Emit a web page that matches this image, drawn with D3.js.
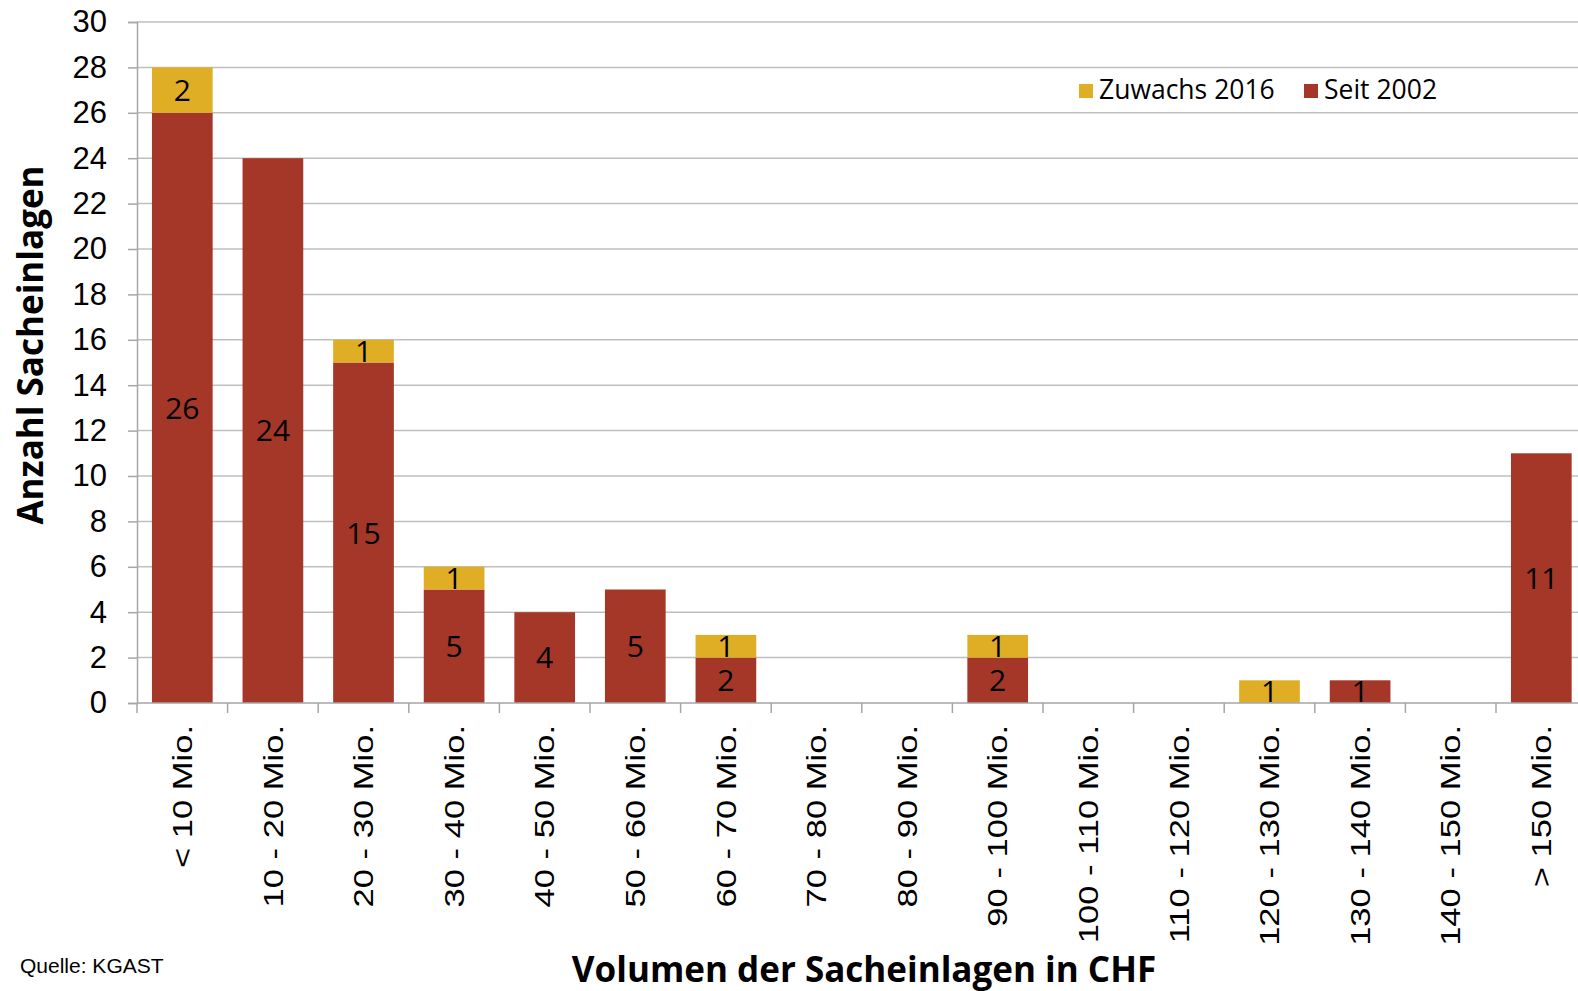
<!DOCTYPE html>
<meta charset="utf-8">
<script src="https://d3js.org/d3.v7.min.js"></script>
<style>
  body { margin: 0; background: #fff; }
</style>
<div id="chart"></div>
<script>
    // categories and values
    var categories = ["< 10 Mio.", "10 - 20 Mio.", "20 - 30 Mio.", "30 - 40 Mio.", "40 - 50 Mio.",
        "50 - 60 Mio.", "60 - 70 Mio.", "70 - 80 Mio.", "80 - 90 Mio.", "90 - 100 Mio.",
        "100 - 110 Mio.", "110 - 120 Mio.", "120 - 130 Mio.", "130 - 140 Mio.", "140 - 150 Mio.", "> 150 Mio."];
    var seit2002 = [26, 24, 15, 5, 4, 5, 2, 0, 0, 2, 0, 0, 0, 1, 0, 11];
    var zuwachs2016 = [2, 0, 1, 1, 0, 0, 1, 0, 0, 1, 0, 0, 1, 0, 0, 0];
    var yTicks = d3.range(0, 31, 2);

    var W = 1578, H = 991;
    var plotLeft = 137, plotTop = 22, plotBottom = 703;
    var step = 90.6;

    var svg = d3.select("#chart").append("svg")
        .attr("width", W).attr("height", H);

    var x = d3.scaleBand()
        .domain(categories)
        .range([plotLeft, plotLeft + step * categories.length])
        .paddingInner(0.33)
        .paddingOuter(0.165);

    var y = d3.scaleLinear()
        .domain([0, 30])
        .range([plotBottom, plotTop]);

    // gridlines
    svg.append("g")
        .selectAll("line")
        .data(yTicks.filter(function (d) { return d > 0; }))
        .enter().append("line")
        .attr("x1", plotLeft).attr("x2", W)
        .attr("y1", function (d) { return y(d); })
        .attr("y2", function (d) { return y(d); })
        .attr("stroke", "#bfbfbf")
        .attr("stroke-width", 1.5);

    // Y axis
    var yAxis = svg.append("g")
        .attr("transform", "translate(" + plotLeft + ",0)")
        .call(d3.axisLeft(y).tickValues(yTicks).tickSize(9).tickPadding(21));
    yAxis.selectAll("line").attr("stroke", "#a6a6a6").attr("stroke-width", 1.5);
    yAxis.select(".domain").attr("stroke", "#a6a6a6").attr("stroke-width", 1.5);
    yAxis.selectAll("text")
        .style("font-family", "Liberation Sans, Arial, sans-serif")
        .style("font-size", "31px")
        .attr("fill", "#000");

    // stacked data
    var rows = categories.map(function (c, i) {
        return { cat: c, seit: seit2002[i], zu: zuwachs2016[i] };
    });

    var red = "#a43727", gold = "#e0ae25";

    svg.append("g").selectAll("rect")
        .data(rows.filter(function (d) { return d.seit > 0; }))
        .enter().append("rect")
        .attr("x", function (d) { return x(d.cat); })
        .attr("width", x.bandwidth())
        .attr("y", function (d) { return y(d.seit); })
        .attr("height", function (d) { return y(0) - y(d.seit); })
        .attr("fill", red);

    svg.append("g").selectAll("rect")
        .data(rows.filter(function (d) { return d.zu > 0; }))
        .enter().append("rect")
        .attr("x", function (d) { return x(d.cat); })
        .attr("width", x.bandwidth())
        .attr("y", function (d) { return y(d.seit + d.zu); })
        .attr("height", function (d) { return y(d.seit) - y(d.seit + d.zu); })
        .attr("fill", gold);

    // X axis line and ticks at band boundaries
    svg.append("line")
        .attr("x1", plotLeft).attr("x2", W)
        .attr("y1", y(0)).attr("y2", y(0))
        .attr("stroke", "#a6a6a6").attr("stroke-width", 1.5);

    var gap = (x.step() - x.bandwidth()) / 2;
    svg.append("g").selectAll("line")
        .data(categories)
        .enter().append("line")
        .attr("x1", function (d) { return x(d) - gap; })
        .attr("x2", function (d) { return x(d) - gap; })
        .attr("y1", y(0)).attr("y2", y(0) + 10)
        .attr("stroke", "#a6a6a6").attr("stroke-width", 1.5);

    // x labels (the original text is stretched along its length)
    svg.append("g").selectAll("text")
        .data(categories)
        .enter().append("text")
        .attr("transform", function (d) {
            return "translate(" + (x(d) + x.bandwidth() / 2) + "," + (y(0) + 22) + ") rotate(-90) scale(1.28,1)";
        })
        .attr("dy", "0.36em")
        .attr("text-anchor", "end")
        .style("font-family", "Liberation Sans, Arial, sans-serif")
        .style("font-size", "27px")
        .text(function (d) { return d; });

    // value labels
    var labelFont = "'Open Sans', 'Noto Sans', sans-serif";
    svg.append("g").selectAll("text")
        .data(rows.filter(function (d) { return d.seit > 0; }))
        .enter().append("text")
        .attr("x", function (d) { return x(d.cat) + x.bandwidth() / 2; })
        .attr("y", function (d) { return y(d.seit / 2); })
        .attr("dy", "0.36em")
        .attr("text-anchor", "middle")
        .style("font-family", labelFont)
        .style("font-size", "30px")
        .text(function (d) { return d.seit; });

    svg.append("g").selectAll("text")
        .data(rows.filter(function (d) { return d.zu > 0; }))
        .enter().append("text")
        .attr("x", function (d) { return x(d.cat) + x.bandwidth() / 2; })
        .attr("y", function (d) { return y(d.seit + d.zu / 2); })
        .attr("dy", "0.36em")
        .attr("text-anchor", "middle")
        .style("font-family", labelFont)
        .style("font-size", "30px")
        .text(function (d) { return d.zu; });

    // legend
    var legend = [{ name: "Zuwachs 2016", color: gold, x: 1079 }, { name: "Seit 2002", color: red, x: 1304 }];
    var lg = svg.append("g").selectAll("g").data(legend).enter().append("g");
    lg.append("rect")
        .attr("x", function (d) { return d.x; })
        .attr("y", 84).attr("width", 14).attr("height", 14)
        .attr("fill", function (d) { return d.color; });
    lg.append("text")
        .attr("x", function (d) { return d.x + 20; })
        .attr("y", 99)
        .style("font-family", labelFont)
        .style("font-size", "26.5px")
        .text(function (d) { return d.name; });

    // axis titles
    svg.append("text")
        .attr("transform", "translate(43,345) rotate(-90)")
        .attr("text-anchor", "middle")
        .style("font-family", labelFont)
        .style("font-weight", "bold")
        .style("font-size", "35px")
        .text("Anzahl Sacheinlagen");

    svg.append("text")
        .attr("x", 864).attr("y", 982)
        .attr("text-anchor", "middle")
        .style("font-family", labelFont)
        .style("font-weight", "bold")
        .style("font-size", "35px")
        .text("Volumen der Sacheinlagen in CHF");

    svg.append("text")
        .attr("x", 20).attr("y", 973)
        .style("font-family", "Liberation Sans, Arial, sans-serif")
        .style("font-size", "21px")
        .text("Quelle: KGAST");
</script>
